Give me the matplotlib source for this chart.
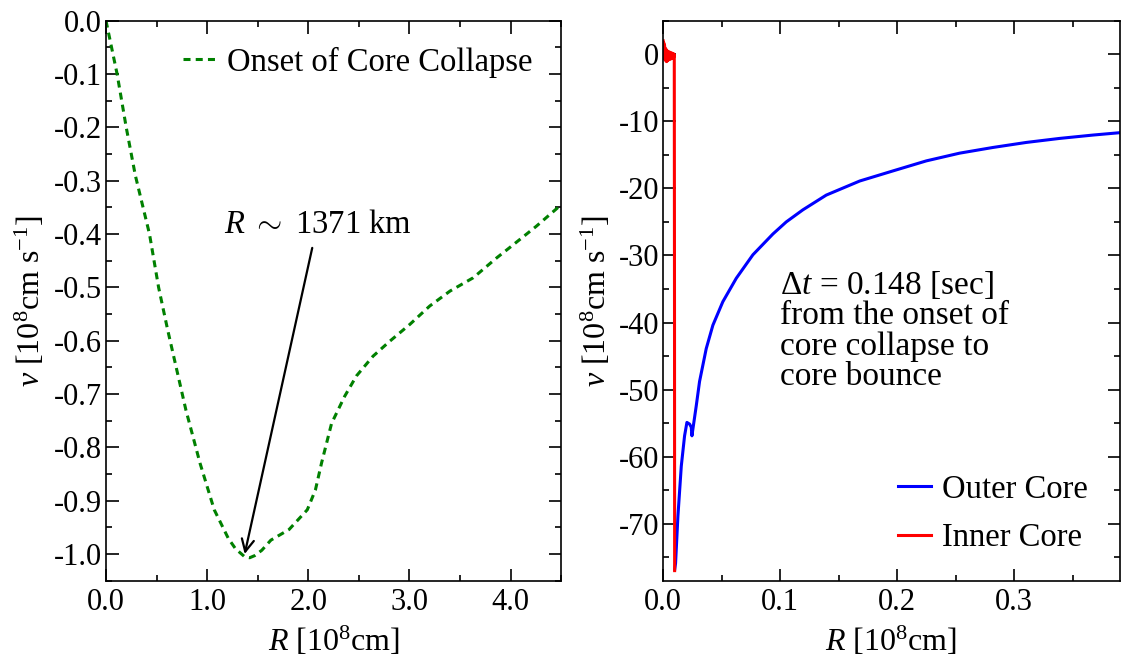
import matplotlib
matplotlib.use("Agg")
import matplotlib.pyplot as plt
from matplotlib.ticker import MultipleLocator, FormatStrFormatter

# --- левая панель: начало коллапса ядра ---
r_onset = [0.0, 0.11, 0.2, 0.29, 0.43, 0.52, 0.61, 0.79, 0.93, 1.07, 1.21, 1.28,
           1.37, 1.42, 1.47, 1.54, 1.63, 1.81, 1.99, 2.07, 2.13, 2.23, 2.36, 2.476,
           2.64, 2.805, 3.003, 3.2, 3.40, 3.63, 3.86, 4.0, 4.25, 4.5]
v_onset = [0.0, -0.10, -0.20, -0.29, -0.40, -0.50, -0.58, -0.73, -0.83, -0.917,
           -0.971, -0.99, -1.005, -1.007, -1.003, -0.993, -0.974, -0.954, -0.917,
           -0.88, -0.83, -0.755, -0.704, -0.666, -0.629, -0.601, -0.5695, -0.535,
           -0.507, -0.482, -0.445, -0.424, -0.386, -0.345]

# --- правая панель: момент отскока ---
r_outer = [0.0099, 0.0106, 0.0126, 0.0155, 0.0183, 0.0203, 0.0226, 0.024, 0.0246,
           0.0254, 0.0283, 0.0311, 0.0368, 0.0425, 0.051, 0.0625, 0.0767, 0.0938,
           0.1052, 0.1194, 0.1394, 0.168, 0.1963, 0.2249, 0.2533, 0.2818, 0.3103,
           0.3388, 0.3673, 0.39]
v_outer = [-76.8, -75.9, -68.9, -61.4, -56.9, -54.9, -55.15, -55.6, -56.9, -55.9,
           -52.4, -48.8, -43.9, -40.4, -36.9, -33.4, -29.9, -26.8, -25.0, -23.2,
           -21.0, -18.9, -17.4, -15.9, -14.75, -13.9, -13.15, -12.55, -12.05, -11.7]

r_inner = [0.0, 0.0003, 0.0006, 0.0009, 0.0012, 0.0015, 0.0019, 0.0023, 0.0027,
           0.0031, 0.0036, 0.0041, 0.0047, 0.0053, 0.0059, 0.0066, 0.0073, 0.008,
           0.0086, 0.0091, 0.0095, 0.0097, 0.0098]
v_inner = [2.0, 0.4, 1.7, -0.3, 1.3, -0.8, 0.9, -1.0, 0.7, -1.1, 0.5, -0.9, 0.4,
           -0.8, 0.3, -0.7, 0.2, -0.6, 0.1, -0.4, 0.0, -38.0, -77.0]

plt.rcParams['font.family'] = 'serif'
plt.rcParams['font.serif'] = ['Liberation Serif', 'DejaVu Serif']
plt.rcParams['mathtext.fontset'] = 'custom'
plt.rcParams['mathtext.rm'] = 'Liberation Serif'
plt.rcParams['mathtext.it'] = 'Liberation Serif:italic'
plt.rcParams['axes.unicode_minus'] = False
plt.rcParams['font.size'] = 22
for ax_name in ('xtick', 'ytick'):
    plt.rcParams[ax_name + '.direction'] = 'in'
    plt.rcParams[ax_name + '.major.size'] = 9
    plt.rcParams[ax_name + '.minor.size'] = 4.5
    plt.rcParams[ax_name + '.major.width'] = 1.2
    plt.rcParams[ax_name + '.minor.width'] = 1.2
plt.rcParams['xtick.top'] = True
plt.rcParams['ytick.right'] = True
plt.rcParams['axes.linewidth'] = 1.2

fig = plt.figure(figsize=(11.24, 6.58), dpi=100)
ax1 = fig.add_axes([0.0943, 0.1175, 0.405, 0.851])
ax2 = fig.add_axes([0.590, 0.1175, 0.406, 0.851])

label_kw = dict(fontsize=23)

# График 1
ax1.plot(r_onset, v_onset, color='#008000', lw=2.2, ls=(0, (2.3, 1.7)),
         label='Onset of Core Collapse')
ax1.set_xlim(0, 4.5)
ax1.set_ylim(-1.05, 0.0)
ax1.xaxis.set_major_locator(MultipleLocator(1.0))
ax1.xaxis.set_minor_locator(MultipleLocator(0.5))
ax1.yaxis.set_major_locator(MultipleLocator(0.1))
ax1.yaxis.set_minor_locator(MultipleLocator(0.05))
ax1.xaxis.set_major_formatter(FormatStrFormatter('%.1f'))
ax1.yaxis.set_major_formatter(FormatStrFormatter('%.1f'))
ax1.tick_params(axis='x', pad=5)
ax1.tick_params(axis='y', pad=3)
ax1.set_xlabel(r'$R$ [10$^8$cm]', labelpad=6, **label_kw)
ax1.set_ylabel(r'$v$ [10$^8$cm s$^{-1}$]', labelpad=5, **label_kw)
ax1.legend(loc='center right', bbox_to_anchor=(0.936, 0.926), frameon=False,
           handlelength=1.0, handletextpad=0.35, borderpad=0, borderaxespad=0,
           fontsize=23.5)
ax1.annotate(r'$R$ $\sim$ 1371 km', xy=(1.371, -1.0), xytext=(2.09, -0.382),
             ha='center', va='center', fontsize=23.5,
             arrowprops=dict(arrowstyle='->', color='k', lw=1.6,
                             shrinkA=4, shrinkB=0, mutation_scale=22))

# График 2
ax2.plot(r_outer, v_outer, color='#0000ff', lw=2.2, label='Outer Core')
ax2.plot(r_inner, v_inner, color='#ff0000', lw=2.2, label='Inner Core')
ax2.set_xlim(0, 0.39)
ax2.set_ylim(-78.5, 5)
ax2.xaxis.set_major_locator(MultipleLocator(0.1))
ax2.xaxis.set_minor_locator(MultipleLocator(0.05))
ax2.yaxis.set_major_locator(MultipleLocator(10))
ax2.yaxis.set_minor_locator(MultipleLocator(5))
ax2.xaxis.set_major_formatter(FormatStrFormatter('%.1f'))
ax2.yaxis.set_major_formatter(FormatStrFormatter('%d'))
ax2.tick_params(axis='x', pad=5)
ax2.tick_params(axis='y', pad=3)
ax2.set_xlabel(r'$R$ [10$^8$cm]', labelpad=6, **label_kw)
ax2.set_ylabel(r'$v$ [10$^8$cm s$^{-1}$]', labelpad=4, **label_kw)
ax2.legend(loc='center right', bbox_to_anchor=(0.931, 0.12), frameon=False,
           handlelength=1.0, handletextpad=0.35, borderpad=0, borderaxespad=0,
           labelspacing=0.55, fontsize=23.5)
ax2.text(0.1, -32.0, '$\\Delta t$ = 0.148 [sec]\nfrom the onset of\ncore collapse to\ncore bounce',
         ha='left', va='top', fontsize=24, linespacing=1.0)

fig.savefig('out.png', dpi=100)
